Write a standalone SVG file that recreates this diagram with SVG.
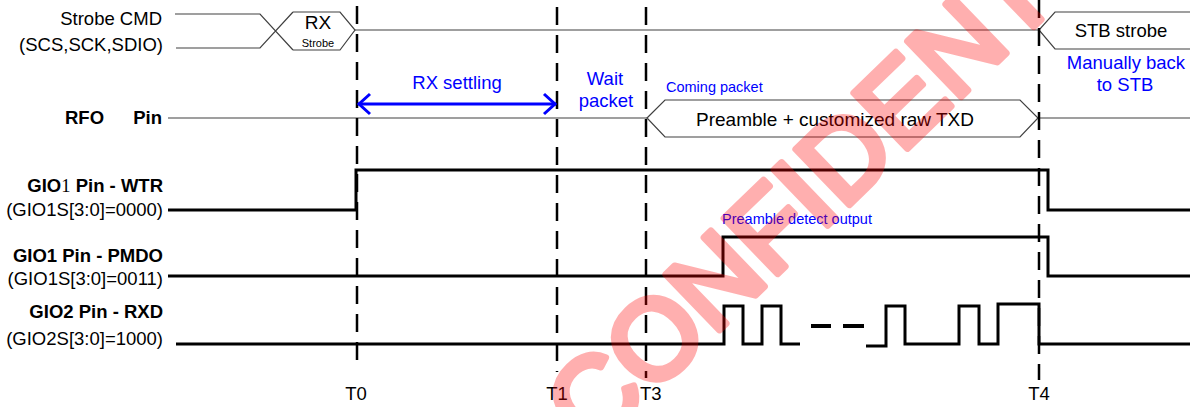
<svg xmlns="http://www.w3.org/2000/svg" width="1190" height="407" viewBox="0 0 1190 407">
<style>
.t{font-family:"Liberation Sans",Arial,sans-serif;font-size:18.5px;fill:#000}
.b{font-weight:bold}
.r{text-anchor:end}
.c{text-anchor:middle}
.blue{fill:#0000ff}
.sm{font-size:14.5px}
.thin{fill:none;stroke:#404040;stroke-width:1.2}
.sig{fill:none;stroke:#000;stroke-width:3}
.tm{fill:none;stroke:#000;stroke-width:2.5;stroke-dasharray:18 10}
</style>
<rect width="1190" height="407" fill="#fff"/>

<g id="strobe-cmd">
  <text class="t r" x="162" y="25">Strobe CMD</text>
  <text class="t r" x="163" y="51">(SCS,SCK,SDIO)</text>
  <path class="thin" d="M175,14 H260 L293,50 M176,48 H260 L293,12"/>
  <path class="thin" d="M293,12 H340 L355,30 L340,50 H293"/>
  <path class="thin" d="M355,30 H1039"/>
  <path class="thin" d="M1190,12 H1055 L1039,30 L1055,49 H1190"/>
  <text class="t c" x="318" y="29" style="font-size:19px">RX</text>
  <text class="t c" x="318" y="46.5" style="font-size:11px">Strobe</text>
  <text class="t c" x="1121" y="37">STB strobe</text>
</g>

<g id="rfo-pin">
  <text class="t b" x="65" y="124">RFO</text>
  <text class="t b r" x="162" y="124">Pin</text>
  <path class="thin" d="M168,118 H647"/>
  <path class="thin" d="M647,118 L665,100 H1020 L1038,118 L1020,137 H665 Z"/>
  <path class="thin" d="M1038,118 H1190"/>
  <text class="t c" x="835" y="126" style="font-size:19px">Preamble + customized raw TXD</text>
</g>

<g id="gio1-wtr">
  <text class="t b r" x="163" y="192">GIO<tspan style="font-family:'Liberation Serif',serif;font-weight:normal">1</tspan> Pin - WTR</text>
  <text class="t r" x="163" y="216">(GIO1S[3:0]=0000)</text>
  <path class="sig" d="M168,210 H356 V170 H1048 V210 H1190"/>
</g>

<g id="gio1-pmdo">
  <text class="t b r" x="163" y="262">GIO1 Pin - PMDO</text>
  <text class="t r" x="163" y="285">(GIO1S[3:0]=0011)</text>
  <path class="sig" d="M168,276 H723 V237 H1048 V276 H1190"/>
</g>

<g id="gio2-rxd">
  <text class="t b r" x="163" y="318">GIO2 Pin - RXD</text>
  <text class="t r" x="163" y="345">(GIO2S[3:0]=1000)</text>
  <path class="sig" d="M176,344 H724 V306 H743 V344 H762 V306 H781 V344 H800"/>
  <path d="M811,326 H831 M843,326 H864" stroke="#000" stroke-width="4" fill="none"/>
  <path class="sig" d="M866,346 H886 V306 H905 V344 H959 V306 H979 V344 H998 V304 H1039 V344 H1190"/>
</g>

<g id="connectors">
  <line class="tm" x1="357" y1="6" x2="357" y2="362"/>
  <line class="tm" x1="557" y1="7" x2="557" y2="372"/>
  <line class="tm" x1="646" y1="7" x2="646" y2="378"/>
  <line class="tm" x1="1039" y1="0" x2="1039" y2="380"/>
  <path d="M358,104 H556" stroke="#0000ff" stroke-width="3" fill="none"/>
  <path d="M370,94 L359,104 L370,114 M544,94 L555,104 L544,114" stroke="#0000ff" stroke-width="3" fill="none"/>
</g>

<g id="annotations">
  <text class="t c blue" x="457" y="89">RX settling</text>
  <text class="t c blue" x="605" y="85">Wait</text>
  <text class="t c blue" x="606" y="107">packet</text>
  <text class="t blue sm" x="666" y="91.5">Coming packet</text>
  <text class="t blue sm" x="722" y="224">Preamble detect output</text>
  <text class="t c blue" x="1126" y="69">Manually back</text>
  <text class="t c blue" x="1125" y="91">to STB</text>
  <text class="t c" x="356" y="400">T0</text>
  <text class="t c" x="557" y="400">T1</text>
  <text class="t" x="640" y="400">T3</text>
  <text class="t c" x="1039" y="400">T4</text>
</g>

<g id="watermark" opacity="0.31">
  <text transform="translate(592,453) rotate(-44)" style="font-family:'Liberation Sans',Arial,sans-serif;font-size:112px;fill:#ff0000;stroke:#ff0000;stroke-width:7;stroke-linejoin:round">CONFIDENTIAL</text>
</g>
</svg>
